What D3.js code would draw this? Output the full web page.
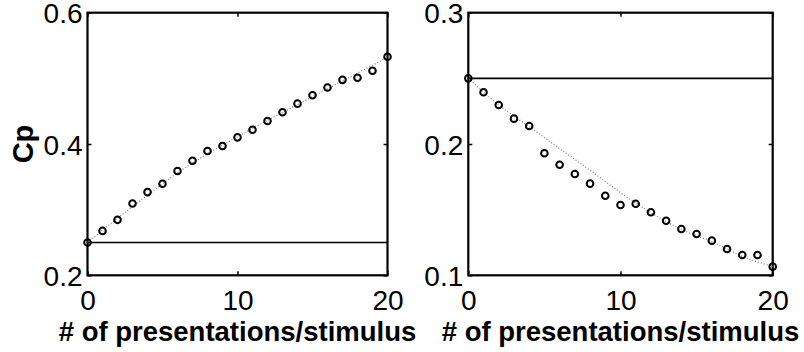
<!DOCTYPE html>
<html>
<head>
<meta charset="utf-8">
<script src="https://cdn.jsdelivr.net/npm/d3@7"></script>
<style>
  html, body { margin: 0; padding: 0; background: #fff; }
  svg { display: block; }
  text { font-family: "Liberation Sans", Arial, Helvetica, sans-serif; fill: #000; }
</style>
</head>
<body>
<svg id="chart" width="804" height="352"></svg>
<script>
// Presentations per stimulus (x) shared by both panels
const presentations = d3.range(0, 21);

// Left panel: measured Cp and smooth fit
const leftCp = [0.250, 0.2676, 0.2845, 0.3094, 0.3267, 0.3394, 0.3588, 0.3745, 0.3893, 0.397,
                0.4101, 0.4218, 0.4351, 0.4483, 0.4615, 0.4742, 0.486, 0.4977, 0.5008, 0.5115, 0.5328];
const leftFitX = [0, 2, 4, 6, 8, 10, 12, 14, 16, 18, 20];
const leftFitY = [0.25, 0.287, 0.322, 0.356, 0.385, 0.411, 0.436, 0.460, 0.484, 0.508, 0.532];
const leftBaseline = 0.25;
const leftYTicks = [0.2, 0.4, 0.6];

// Right panel: measured Cp and smooth fit
const rightCp = [0.250, 0.2394, 0.2297, 0.2193, 0.2137, 0.1929, 0.1842, 0.1772, 0.1698, 0.1606,
                 0.1535, 0.1545, 0.148, 0.1416, 0.1353, 0.1315, 0.1264, 0.120, 0.1155, 0.1155, 0.1066];
const rightFitX = [0, 2, 4, 6, 8, 10, 12, 14, 16, 18, 20];
const rightFitY = [0.25, 0.2297, 0.2132, 0.1965, 0.180, 0.163, 0.1477, 0.135, 0.1256, 0.1145, 0.1066];
const rightBaseline = 0.25;
const rightYTicks = [0.1, 0.2, 0.3];

const xTicks = [0, 10, 20];
const xLabel = "# of presentations/stimulus";
const yLabel = "Cp";

const svg = d3.select("#chart");

function drawPanel(p) {
  const x = d3.scaleLinear().domain([0, 20]).range([p.left, p.right]);
  const y = d3.scaleLinear().domain(p.yDomain).range([p.bottom, p.top]);
  const g = svg.append("g");

  // bottom axis with labels, inward ticks
  const xb = g.append("g").attr("transform", `translate(0,${p.bottom})`)
    .call(d3.axisBottom(x).tickValues(xTicks).tickSizeInner(-4).tickSizeOuter(0).tickPadding(15).tickFormat(d3.format("d")));
  // top axis, ticks only
  const xt = g.append("g").attr("transform", `translate(0,${p.top})`)
    .call(d3.axisTop(x).tickValues(xTicks).tickSizeInner(-4).tickSizeOuter(0).tickFormat(""));
  // left axis with labels
  const yl = g.append("g").attr("transform", `translate(${p.left},0)`)
    .call(d3.axisLeft(y).tickValues(p.yTicks).tickSizeInner(-4).tickSizeOuter(0).tickPadding(5).tickFormat(d3.format(".1f")));
  // right axis, ticks only
  const yr = g.append("g").attr("transform", `translate(${p.right},0)`)
    .call(d3.axisRight(y).tickValues(p.yTicks).tickSizeInner(-4).tickSizeOuter(0).tickFormat(""));

  [xb, xt, yl, yr].forEach(a => {
    a.select(".domain").remove();
    a.selectAll(".tick line").attr("stroke", "#000").attr("stroke-width", 1.5);
    a.selectAll("text").attr("font-size", 28).attr("fill", "#000")
      .style("font-family", '"Liberation Sans", Arial, sans-serif');
  });
  yl.selectAll("text").attr("dy", "0.36em");

  // frame
  g.append("rect")
    .attr("x", p.left).attr("y", p.top)
    .attr("width", p.right - p.left).attr("height", p.bottom - p.top)
    .attr("fill", "none").attr("stroke", "#000").attr("stroke-width", 2.2);

  // fitted curve (dotted)
  const fit = p.fitX.map((v, i) => [v, p.fitY[i]]);
  g.append("path")
    .datum(fit)
    .attr("d", d3.line().x(d => x(d[0])).y(d => y(d[1])).curve(d3.curveMonotoneX))
    .attr("fill", "none").attr("stroke", "#7a7a7a").attr("stroke-width", 1.2)
    .attr("stroke-dasharray", "1,2");

  // chance baseline
  g.append("line")
    .attr("x1", x(0)).attr("x2", x(20))
    .attr("y1", y(p.baseline)).attr("y2", y(p.baseline))
    .attr("stroke", "#000").attr("stroke-width", 1.7);

  // measured points
  g.selectAll("circle.pt")
    .data(presentations.map((v, i) => [v, p.values[i]]))
    .join("circle")
    .attr("class", "pt")
    .attr("cx", d => x(d[0])).attr("cy", d => y(d[1]))
    .attr("r", 3.3)
    .attr("fill", "none").attr("stroke", "#000").attr("stroke-width", 2);

  // x label
  g.append("text")
    .attr("x", (p.left + p.right) / 2).attr("y", 341)
    .attr("text-anchor", "middle")
    .attr("font-size", 27.5).attr("font-weight", "bold")
    .text(xLabel);
}

drawPanel({ left: 87.5, right: 387.5, top: 12.7, bottom: 275.3, yDomain: [0.2, 0.6],
            yTicks: leftYTicks, values: leftCp, fitX: leftFitX, fitY: leftFitY, baseline: leftBaseline });
drawPanel({ left: 468.3, right: 772.7, top: 12.7, bottom: 275.3, yDomain: [0.1, 0.3],
            yTicks: rightYTicks, values: rightCp, fitX: rightFitX, fitY: rightFitY, baseline: rightBaseline });

// y label
svg.append("text")
  .attr("transform", "translate(33,144) rotate(-90)")
  .attr("text-anchor", "middle")
  .attr("font-size", 29).attr("font-weight", "bold")
  .text(yLabel);
</script>
</body>
</html>
